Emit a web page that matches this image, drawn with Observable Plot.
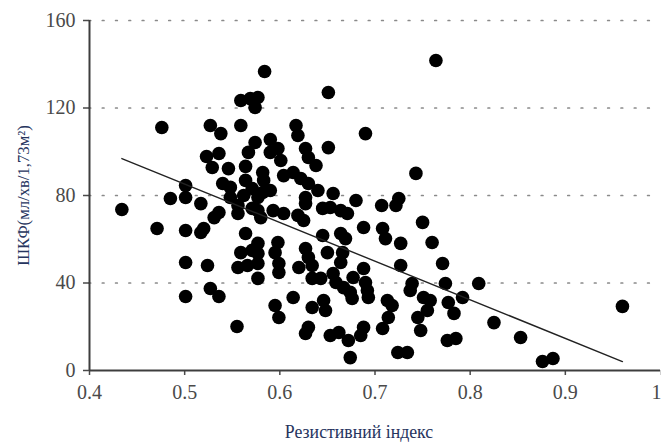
<!DOCTYPE html>
<html>
<head>
<meta charset="utf-8">
<script src="https://cdn.jsdelivr.net/npm/d3@7"></script>
<script src="https://cdn.jsdelivr.net/npm/@observablehq/plot@0.6"></script>
<style>
  html, body { margin: 0; padding: 0; background: #fff; }
</style>
</head>
<body>
<div id="chart"></div>
<script>
// Resistive index (x) and eGFR, ml/min/1.73m² (y)
const riValues = [
  0.434, 0.476, 0.471, 0.485, 0.501, 0.501, 0.501, 0.501, 0.501, 0.517,
  0.520, 0.524, 0.527, 0.536, 0.517, 0.527, 0.538, 0.523, 0.536, 0.529,
  0.546, 0.564, 0.540, 0.548, 0.564, 0.548, 0.536, 0.556, 0.571, 0.577,
  0.556, 0.559, 0.559, 0.569, 0.577, 0.574, 0.574, 0.567, 0.531, 0.564,
  0.559, 0.571, 0.556, 0.566, 0.577, 0.577, 0.555, 0.571, 0.562, 0.584,
  0.651, 0.617, 0.619, 0.590, 0.598, 0.590, 0.601, 0.627, 0.630, 0.638,
  0.651, 0.582, 0.583, 0.604, 0.614, 0.622, 0.630, 0.640, 0.656, 0.582,
  0.590, 0.627, 0.627, 0.577, 0.593, 0.604, 0.619, 0.645, 0.653, 0.664,
  0.671, 0.580, 0.625, 0.645, 0.664, 0.669, 0.688, 0.708, 0.711, 0.577,
  0.577, 0.598, 0.595, 0.627, 0.630, 0.634, 0.650, 0.666, 0.664, 0.599,
  0.599, 0.620, 0.634, 0.643, 0.656, 0.659, 0.688, 0.677, 0.690, 0.667,
  0.674, 0.676, 0.692, 0.693, 0.614, 0.595, 0.599, 0.634, 0.646, 0.648,
  0.630, 0.627, 0.653, 0.662, 0.672, 0.685, 0.688, 0.708, 0.674, 0.714,
  0.713, 0.743, 0.725, 0.722, 0.707, 0.750, 0.727, 0.760, 0.771, 0.727,
  0.739, 0.737, 0.774, 0.809, 0.792, 0.777, 0.783, 0.751, 0.758, 0.755,
  0.745, 0.748, 0.718, 0.825, 0.776, 0.785, 0.853, 0.724, 0.734, 0.690,
  0.680, 0.876, 0.887, 0.960, 0.764
];
const gfrValues = [
  73.6, 111.1, 64.9, 78.6, 84.6, 79.1, 64.0, 49.4, 33.8, 63.1,
  64.9, 48.0, 37.5, 33.8, 76.3, 112.0, 108.3, 97.8, 99.2, 92.8,
  92.3, 93.3, 85.5, 83.7, 86.9, 79.1, 72.2, 71.8, 74.1, 79.1,
  75.4, 112.0, 123.4, 124.3, 124.8, 120.2, 104.2, 99.7, 69.9, 62.6,
  53.9, 54.9, 47.1, 48.0, 48.9, 42.1, 20.1, 83.2, 80.0, 136.7,
  127.1, 112.0, 107.4, 105.6, 101.5, 99.7, 96.0, 101.5, 97.4, 93.7,
  101.9, 90.5, 86.9, 89.1, 90.5, 87.8, 85.5, 82.3, 80.9, 81.4,
  82.3, 79.1, 76.3, 73.1, 73.1, 71.8, 70.9, 74.1, 74.5, 73.1,
  71.8, 69.9, 68.6, 61.7, 62.6, 60.3, 65.4, 64.9, 60.3, 58.1,
  53.5, 58.5, 53.9, 55.8, 51.7, 48.0, 53.9, 53.9, 49.4, 48.9,
  44.8, 47.1, 42.1, 42.1, 44.3, 40.2, 46.6, 42.5, 40.2, 37.9,
  35.7, 32.9, 36.6, 33.4, 33.4, 29.7, 24.2, 28.8, 32.0, 27.4,
  19.7, 16.9, 16.0, 17.4, 13.7, 16.0, 19.7, 19.2, 5.9, 24.2,
  32.0, 90.1, 78.6, 75.4, 75.4, 67.7, 58.1, 58.5, 48.9, 48.0,
  39.8, 36.6, 39.8, 39.8, 33.4, 31.1, 26.1, 33.4, 32.0, 27.4,
  24.2, 18.3, 29.7, 21.9, 13.7, 14.6, 15.1, 8.2, 8.2, 108.3,
  77.7, 4.1, 5.5, 29.3, 141.7
];
// Trend line end points
const trendX = [0.434, 0.960];
const trendY = [96.9, 4.1];

const xTicks = [0.4, 0.5, 0.6, 0.7, 0.8, 0.9];
const xLastTick = [1.0];
const yTicks = [0, 40, 80, 120, 160];
const gridY = [40, 80, 120, 160];

const xTitle = "Резистивний індекс";
const yTitle = "ШКФ(мл/хв/1,73м²)";

const points = riValues.map((x, i) => ({x, y: gfrValues[i]}));
const trend = trendX.map((x, i) => ({x, y: trendY[i]}));

const serif = "'Liberation Serif', 'DejaVu Serif', serif";
const fmt = d => d === 1 ? "1" : d.toFixed(1);

const chart = Plot.plot({
  width: 661,
  height: 443,
  marginLeft: 89,
  marginRight: 1,
  marginTop: 20,
  marginBottom: 73,
  style: {fontFamily: serif, background: "#fff", color: "#4a4a4a"},
  x: {domain: [0.4, 1.0]},
  y: {domain: [0, 160]},
  marks: [
    Plot.ruleY(gridY, {stroke: "#8a8a8a", strokeWidth: 1.7, strokeDasharray: "1.7 11.6", strokeLinecap: "round"}),
    Plot.axisX({ticks: xTicks, tickSize: 5, tickPadding: 9, fontSize: 20, fontFamily: serif, label: null,
      tickFormat: fmt, strokeWidth: 1.5}),
    Plot.axisX({ticks: xLastTick, tickSize: 5, tickPadding: 9, fontSize: 20, fontFamily: serif, label: null,
      tickFormat: fmt, strokeWidth: 1.5, textAnchor: "end", dx: 1}),
    Plot.axisY({ticks: yTicks, tickSize: 6, tickPadding: 8, fontSize: 20, fontFamily: serif, label: null, strokeWidth: 1.5}),
    Plot.axisY({ticks: [], tickSize: 0, label: yTitle, labelAnchor: "center", labelArrow: false, labelOffset: 72,
      fontSize: 16.7, fontFamily: serif, fill: "#26345e"}),
    Plot.ruleX([0.4], {y1: 0, y2: 160, stroke: "#3e3e3e", strokeWidth: 2}),
    Plot.ruleY([0], {x1: 0.4, x2: 1.0, stroke: "#3e3e3e", strokeWidth: 2}),
    Plot.dot(points, {x: "x", y: "y", r: 6.8, fill: "#000", stroke: "none"}),
    Plot.line(trend, {x: "x", y: "y", stroke: "#222", strokeWidth: 1.4}),
    Plot.text([xTitle], {frameAnchor: "bottom", dy: 62, dx: -16, fontSize: 17.8, fontFamily: serif,
      fill: "#26345e", lineAnchor: "middle", textAnchor: "middle"})
  ]
});
document.getElementById("chart").appendChild(chart);
</script>
</body>
</html>
